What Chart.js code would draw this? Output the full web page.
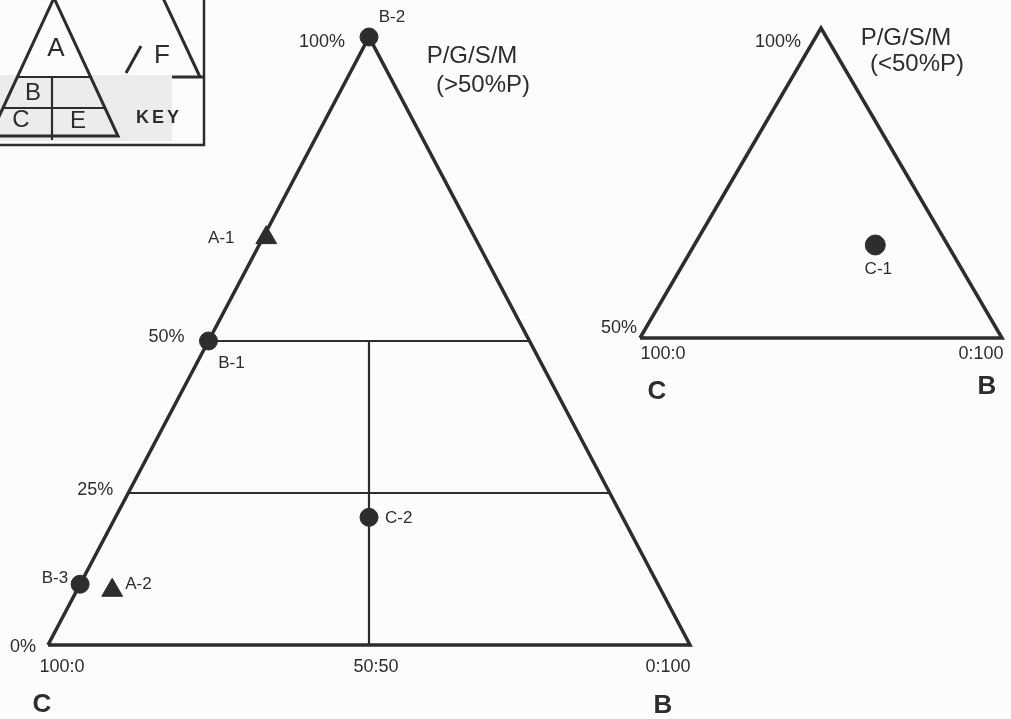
<!DOCTYPE html>
<html>
<head>
<script src="https://cdn.jsdelivr.net/npm/chart.js"></script>
<style>
  html, body { margin: 0; padding: 0; background: #fcfcfa; }
  #wrap { width: 1011px; height: 719px; }
</style>
</head>
<body>
<div id="wrap"><canvas id="Chart" width="1011" height="719"></canvas></div>
<script>
// x = C:B ratio along the base (0 -> 100:0, 100 -> 0:100), y = %P up the triangle
const triNames = ["A-1", "A-2"];
const triCB = [34, 10];
const triP = [67, 9];

const dotNames = ["B-1", "B-2", "B-3", "C-2"];
const dotCB = [25, 50, 5, 50];
const dotP = [50, 100, 10, 21];

const insetNames = ["C-1"];
const insetCB = [65];
const insetP = [65];

const baseTicks = ["100:0", "50:50", "0:100"];
const baseTickValues = [0, 50, 100];
const pTicks = ["0%", "25%", "50%", "100%"];
const pTickValues = [0, 25, 50, 100];
const insetBaseTicks = ["100:0", "0:100"];
const insetBaseValues = [0, 100];
const insetPTicks = ["50%", "100%"];
const insetPValues = [50, 100];

const INK = "#2d2d2d";
const FONT = "'Liberation Sans', Arial, sans-serif";

// label offsets (pixels) from each marker
const labelOffsets = {
  "A-1": [-45, 1, "center"],
  "A-2": [13, -6, "left"],
  "B-1": [23, 22, "center"],
  "B-2": [23, -20, "center"],
  "B-3": [-12, -6, "right"],
  "C-2": [16, 1, "left"],
  "C-1": [3, 24, "center"],
};

// work out min/max so the given values land on the given pixels
function xRange(px0, v0, px1, v1, size) {
  const k = (px1 - px0) / (v1 - v0);
  return { min: v0 - px0 / k, max: v0 + (size - px0) / k };
}
function yRange(pxLow, vLow, pxHigh, vHigh, size) {
  const k = (pxLow - pxHigh) / (vHigh - vLow);
  return { min: vLow - (size - pxLow) / k, max: vHigh + pxHigh / k };
}

const W = 1011, H = 719;
const mainX = xRange(48, 0, 690, 100, W);
const mainY = yRange(645, 0, 37, 100, H);
const insetX = xRange(640, 0, 1002, 100, W);
const insetY = yRange(338, 50, 28, 100, H);

function zipPts(xs, ys) {
  return xs.map((x, i) => ({ x: x, y: ys[i] }));
}

function lineSet(pts, width, axes) {
  return {
    data: pts,
    showLine: true,
    pointRadius: 0,
    borderColor: INK,
    borderWidth: width,
    borderJoinStyle: "miter",
    borderCapStyle: "butt",
    fill: false,
    xAxisID: axes[0],
    yAxisID: axes[1],
  };
}

function markerSet(pts, style, r, axes) {
  return {
    data: pts,
    showLine: false,
    pointStyle: style,
    pointRadius: r,
    pointBackgroundColor: INK,
    pointBorderColor: INK,
    pointBorderWidth: 1,
    xAxisID: axes[0],
    yAxisID: axes[1],
  };
}

const M = ["x", "y"];
const I = ["xi", "yi"];

const datasets = [
  lineSet([{ x: 0, y: 0 }, { x: 50, y: 100 }, { x: 100, y: 0 }, { x: 0, y: 0 }], 3.5, M),
  lineSet([{ x: 25, y: 50 }, { x: 75, y: 50 }], 2.2, M),
  lineSet([{ x: 12.5, y: 25 }, { x: 87.5, y: 25 }], 2.2, M),
  lineSet([{ x: 50, y: 0 }, { x: 50, y: 50 }], 2.2, M),
  lineSet([{ x: 0, y: 50 }, { x: 50, y: 100 }, { x: 100, y: 50 }, { x: 0, y: 50 }], 3.5, I),
  markerSet(zipPts(dotCB, dotP), "circle", 9, M),
  markerSet(zipPts(triCB, triP), "triangle", 12, M),
  markerSet(zipPts(insetCB, insetP), "circle", 10, I),
];

function txt(ctx, s, x, y, size, align, bold) {
  ctx.save();
  ctx.font = (bold ? "bold " : "") + size + "px " + FONT;
  ctx.fillStyle = INK;
  ctx.textAlign = align || "center";
  ctx.textBaseline = "middle";
  ctx.fillText(s, x, y);
  ctx.restore();
}

function drawKey(ctx) {
  ctx.save();
  ctx.fillStyle = "#ececea";
  ctx.fillRect(0, 75, 172, 66);
  ctx.fillStyle = "#fcfcfa";
  ctx.beginPath();
  ctx.moveTo(54, -2); ctx.lineTo(91, 77); ctx.lineTo(17, 77); ctx.closePath();
  ctx.fill();
  ctx.strokeStyle = INK;
  ctx.lineWidth = 2.5;
  ctx.beginPath();
  ctx.moveTo(204, 0); ctx.lineTo(204, 145); ctx.lineTo(0, 145);
  ctx.stroke();
  ctx.lineWidth = 3;
  ctx.beginPath();
  ctx.moveTo(-10, 136); ctx.lineTo(54, -2); ctx.lineTo(118, 136); ctx.lineTo(-10, 136);
  ctx.stroke();
  ctx.lineWidth = 2.2;
  ctx.beginPath();
  ctx.moveTo(17, 77); ctx.lineTo(91, 77);
  ctx.moveTo(3, 108); ctx.lineTo(105, 108);
  ctx.moveTo(52, 77); ctx.lineTo(52, 140);
  ctx.stroke();
  // F triangle
  ctx.lineWidth = 3;
  ctx.beginPath();
  ctx.moveTo(163, -2); ctx.lineTo(200, 77);
  ctx.moveTo(172, 77); ctx.lineTo(204, 77);
  ctx.moveTo(141, 46); ctx.lineTo(126, 73);
  ctx.stroke();
  ctx.restore();
  txt(ctx, "A", 56, 49, 26);
  txt(ctx, "F", 162, 56, 26);
  txt(ctx, "B", 33, 93, 24);
  txt(ctx, "C", 21, 120, 24);
  txt(ctx, "E", 78, 121, 24);
  ctx.save();
  ctx.letterSpacing = "3px";
  txt(ctx, "KEY", 159, 118, 18, "center", true);
  ctx.restore();
}

const paper = {
  id: "paper",
  beforeDraw(chart) {
    const ctx = chart.ctx;
    ctx.save();
    ctx.fillStyle = "#fcfcfa";
    ctx.fillRect(0, 0, chart.width, chart.height);
    ctx.restore();
    drawKey(ctx);
  },
};

const labels = {
  id: "labels",
  afterDatasetsDraw(chart) {
    const ctx = chart.ctx;
    const s = chart.scales;
    const px = (sc, v) => s[sc].getPixelForValue(v);

    // point labels
    const put = (names, xs, ys, ax) => {
      names.forEach((n, i) => {
        const o = labelOffsets[n];
        txt(ctx, n, px(ax[0], xs[i]) + o[0], px(ax[1], ys[i]) + o[1], 17, o[2]);
      });
    };
    put(dotNames, dotCB, dotP, M);
    put(triNames, triCB, triP, M);
    put(insetNames, insetCB, insetP, I);

    // %P labels along the left edge
    const pOff = { "0%": [-12, 2], "25%": [-15, -3], "50%": [-24, -4], "100%": [-24, 5] };
    pTicks.forEach((t, i) => {
      const v = pTickValues[i];
      const o = pOff[t];
      txt(ctx, t, px("x", v / 2) + o[0], px("y", v) + o[1], 18, "right");
    });
    const base0 = px("y", 0);
    const baseOff = [14, 7, -22];
    baseTicks.forEach((t, i) => {
      txt(ctx, t, px("x", baseTickValues[i]) + baseOff[i], base0 + 22, 18, "center");
    });
    txt(ctx, "C", px("x", 0) - 6, base0 + 60, 26, "center", true);
    txt(ctx, "B", px("x", 100) - 27, base0 + 61, 26, "center", true);
    txt(ctx, "P/G/S/M", px("x", 50) + 103, px("y", 100) + 19, 24, "center");
    txt(ctx, "(>50%P)", px("x", 50) + 114, px("y", 100) + 48, 24, "center");

    // inset
    const iOff = { "50%": [-3, -10], "100%": [-20, 14] };
    insetPTicks.forEach((t, i) => {
      const v = insetPValues[i];
      const o = iOff[t];
      txt(ctx, t, px("xi", (v - 50)) + o[0], px("yi", v) + o[1], 18, "right");
    });
    const ib = px("yi", 50);
    const iBaseOff = [23, -21];
    insetBaseTicks.forEach((t, i) => {
      txt(ctx, t, px("xi", insetBaseValues[i]) + iBaseOff[i], ib + 16, 18, "center");
    });
    txt(ctx, "C", px("xi", 0) + 17, ib + 54, 26, "center", true);
    txt(ctx, "B", px("xi", 100) - 15, ib + 49, 26, "center", true);
    txt(ctx, "P/G/S/M", px("xi", 50) + 85, px("yi", 100) + 10, 24, "center");
    txt(ctx, "(<50%P)", px("xi", 50) + 96, px("yi", 100) + 36, 24, "center");
  },
};

new Chart(document.getElementById("Chart"), {
  type: "scatter",
  data: { datasets: datasets },
  options: {
    responsive: false,
    animation: false,
    layout: { padding: 0, autoPadding: false },
    plugins: { legend: { display: false }, tooltip: { enabled: false } },
    scales: {
      x: { type: "linear", display: false, min: mainX.min, max: mainX.max },
      y: { type: "linear", display: false, min: mainY.min, max: mainY.max },
      xi: { type: "linear", display: false, min: insetX.min, max: insetX.max },
      yi: { type: "linear", display: false, min: insetY.min, max: insetY.max },
    },
  },
  plugins: [paper, labels],
});
</script>
</body>
</html>
